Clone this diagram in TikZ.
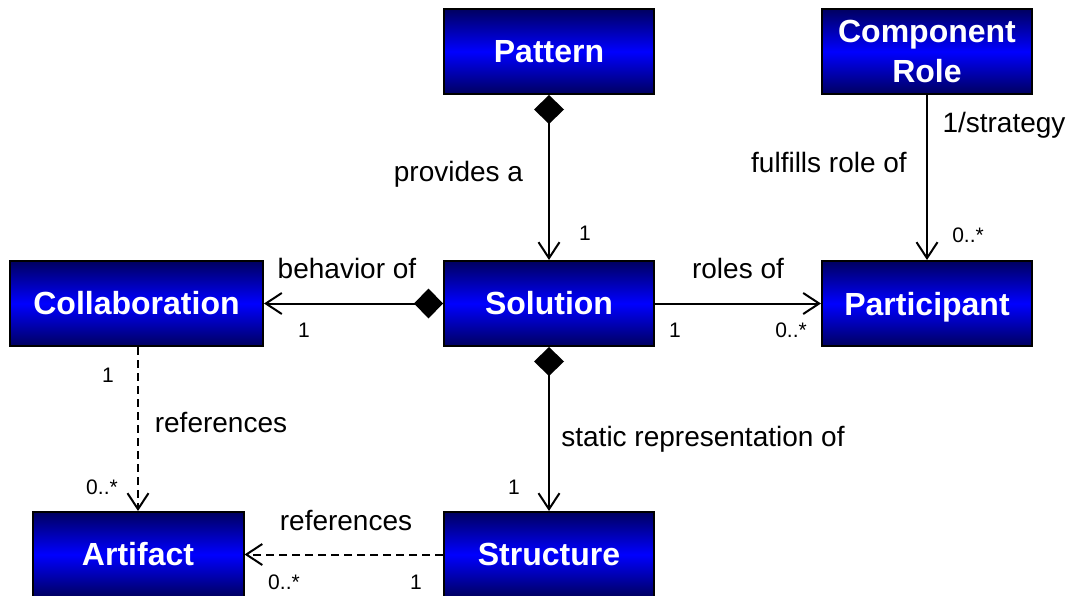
\documentclass[tikz,border=0pt]{standalone}
\usepackage{fontspec}
\setmainfont{Liberation Sans}
\usetikzlibrary{arrows.meta}
\definecolor{boxdark}{HTML}{000060}
\definecolor{boxlight}{HTML}{0000FF}
\tikzset{
  classbox/.style={draw=black, line width=2pt, top color=boxdark, bottom color=boxdark,
    middle color=boxlight, minimum height=85pt, inner sep=0pt, text=white,
    font=\fontsize{32}{40}\selectfont\bfseries, align=center},
  assoc/.style={line width=2pt, -{Straight Barb[length=16pt,width=21pt,line width=2pt]}},
  comp/.style={line width=2pt, {Diamond[length=29pt,width=30pt]}-{Straight Barb[length=16pt,width=21pt,line width=2pt]}},
  dep/.style={assoc, dash pattern=on 8pt off 5pt},
  lbl/.style={inner sep=0pt, font=\fontsize{28}{32}\selectfont, text height=0.72em, text depth=0pt},
  mult/.style={inner sep=0pt, font=\fontsize{21}{24}\selectfont, text height=0.72em, text depth=0pt},
}
\begin{document}
\begin{tikzpicture}[x=1pt, y=-1pt]
\useasboundingbox (0,0) rectangle (1081,596);
% classes
\node[classbox, minimum width=210pt] (pattern) at (549,51.5) {Pattern};
\node[classbox, minimum width=210pt] (comprole) at (927,51.5) {Component\\Role};
\node[classbox, minimum width=253pt] (collab) at (136.5,303.5) {Collaboration};
\node[classbox, minimum width=210pt] (solution) at (549,303.5) {Solution};
\node[classbox, minimum width=210pt] (participant) at (927,303.5) {\rule{0pt}{0.94em}Participant};
\node[classbox, minimum width=211pt] (artifact) at (138,554.5) {Artifact};
\node[classbox, minimum width=210pt] (structure) at (549,554.5) {Structure};
% associations
\draw[comp] (pattern.south) -- (solution.north);
\draw[comp] (solution.west) -- (collab.east);
\draw[assoc] (solution.east) -- (participant.west);
\draw[comp] (solution.south) -- (structure.north);
\draw[assoc] (comprole.south) -- (participant.north);
\draw[dep] (collab.south -| artifact.north) -- (artifact.north);
\draw[dep] (structure.west) -- (artifact.east);
% association labels
\node[lbl] (l1) at (458.5,178) {provides a};
\node[mult] (m1) at (585,237) {1};
\node[lbl] (l2) at (1004,129) {1/strategy};
\node[lbl] (l3) at (829,169) {fulfills role of};
\node[mult] (m2) at (968,239) {0..*};
\node[lbl] (l4) at (347,275) {behavior of};
\node[mult] (m3) at (304,334) {1};
\node[lbl] (l5) at (738,275) {roles of};
\node[mult] (m4) at (675,334) {1};
\node[mult] (m5) at (791,334) {0..*};
\node[mult] (m6) at (108,379) {1};
\node[lbl] (l6) at (221,429) {references};
\node[mult] (m7) at (102,491) {0..*};
\node[lbl] (l7) at (703,443) {static representation of};
\node[mult] (m8) at (514,491) {1};
\node[lbl] (l8) at (346,527) {references};
\node[mult] (m9) at (284,586) {0..*};
\node[mult] (m10) at (416,586) {1};
\end{tikzpicture}
\end{document}
